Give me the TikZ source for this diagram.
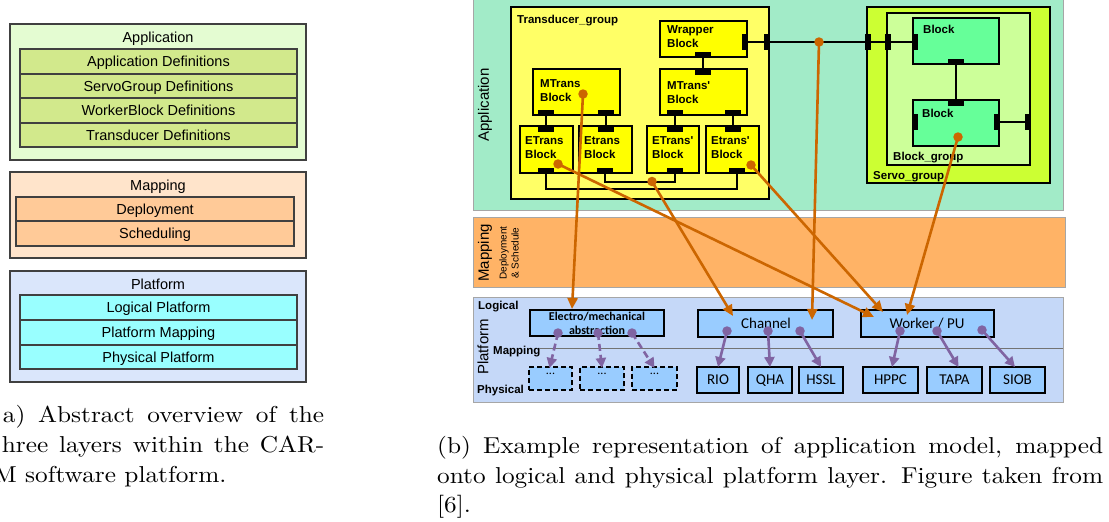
\documentclass[tikz,border=0pt]{standalone}
\usepackage{fontspec}
\usetikzlibrary{arrows.meta,calc}
\newfontfamily\arialf{Liberation Sans}
\newfontfamily\calf{Carlito}
\newfontfamily\capf[FakeStretch=1.1]{lmroman10-regular.otf}
\definecolor{lappbg}{HTML}{E4FCD2}
\definecolor{lapprow}{HTML}{D2E98C}
\definecolor{lmapbg}{HTML}{FFE4CB}
\definecolor{lmaprow}{HTML}{FFCA98}
\definecolor{lplatbg}{HTML}{DAE6FB}
\definecolor{lplatrow}{HTML}{99FFFF}
\definecolor{mint}{HTML}{A2EBC8}
\definecolor{tgyel}{HTML}{FFFF66}
\definecolor{blkyel}{HTML}{FFFF00}
\definecolor{sgcol}{HTML}{CCFF33}
\definecolor{bgcol}{HTML}{CCFF99}
\definecolor{blkgreen}{HTML}{66FF99}
\definecolor{maporange}{HTML}{FFB366}
\definecolor{platblue}{HTML}{C5D8F8}
\definecolor{logblue}{HTML}{99CCFF}
\definecolor{arrorange}{HTML}{CC6600}
\definecolor{arrpurple}{HTML}{8064A2}
\definecolor{edgegray}{HTML}{404040}
\newcommand\mkbox[6]{\node[#6,anchor=north west,minimum width=#4pt-#2pt,minimum height=#5pt-#3pt,inner sep=0pt,outer sep=0pt] (#1) at (#2,#3) {};}
\tikzset{
  louter/.style={draw=edgegray,line width=1.3pt},
  lrow/.style={draw=edgegray,line width=1.3pt},
  ltext/.style={font=\arialf\fontsize{14.5}{17}\selectfont,inner sep=0pt,anchor=base},
  secbg/.style={draw=gray!70,line width=0.8pt},
  blk/.style={draw=black,line width=1.8pt,fill=blkyel},
  btext/.style={font=\arialf\bfseries\fontsize{11.5}{14.5}\selectfont,inner sep=0pt,align=left},
  hport/.style={fill=black,inner sep=0pt,minimum width=16pt,minimum height=6pt},
  vport/.style={fill=black,inner sep=0pt,minimum width=6pt,minimum height=16pt},
  conn/.style={draw=black,line width=1.8pt},
  lbox/.style={draw=black,line width=1.8pt,fill=logblue},
  dbox/.style={draw=black,line width=1.8pt,fill=logblue,dash pattern=on 5pt off 3pt},
  ctext/.style={font=\calf\fontsize{15}{18}\selectfont,inner sep=0pt,anchor=base},
  odot/.style={circle,fill=arrorange,inner sep=0pt,minimum size=9.5pt},
  pdot/.style={circle,fill=arrpurple,inner sep=0pt,minimum size=9.5pt},
  oarr/.style={draw=arrorange,line width=2.6pt,-{Triangle[length=11pt,width=10pt]}},
  parr/.style={draw=arrpurple,line width=2.6pt,-{Triangle[length=10pt,width=10pt]}},
  pdash/.style={parr,dash pattern=on 7pt off 4pt},
  capst/.style={font=\capf\fontsize{23}{30}\selectfont,inner sep=0pt,anchor=base west},
}
\begin{document}
\begin{tikzpicture}[x=1pt,y=-1pt]
\useasboundingbox (0,0) rectangle (1109,522);
\fill[white] (0,0) rectangle (1109,522);
% ---------------- left panel ----------------
\mkbox{lapp}{10}{24}{306}{160}{louter,fill=lappbg}
\node[ltext] (tlapp) at (158,42.2) {Application};
\mkbox{ar1}{20}{49}{297}{74}{lrow,fill=lapprow}
\mkbox{ar2}{20}{74}{297}{98}{lrow,fill=lapprow}
\mkbox{ar3}{20}{98}{297}{123}{lrow,fill=lapprow}
\mkbox{ar4}{20}{123}{297}{147}{lrow,fill=lapprow}
\node[ltext] (tar1) at ($(ar1.center)+(0,5.2)$) {Application Definitions};
\node[ltext] (tar2) at ($(ar2.center)+(0,5.2)$) {ServoGroup Definitions};
\node[ltext] (tar3) at ($(ar3.center)+(0,5.2)$) {WorkerBlock Definitions};
\node[ltext] (tar4) at ($(ar4.center)+(0,5.2)$) {Transducer Definitions};
\mkbox{lmap}{10}{172}{306}{258}{louter,fill=lmapbg}
\node[ltext] (tlmap) at (158,190.2) {Mapping};
\mkbox{mr1}{16}{197}{294}{221}{lrow,fill=lmaprow}
\mkbox{mr2}{16}{221}{294}{246}{lrow,fill=lmaprow}
\node[ltext] (tmr1) at ($(mr1.center)+(0,5.2)$) {Deployment};
\node[ltext] (tmr2) at ($(mr2.center)+(0,5.2)$) {Scheduling};
\mkbox{lplat}{10}{271}{306}{382}{louter,fill=lplatbg}
\node[ltext] (tlplat) at (158,289.2) {Platform};
\mkbox{pr1}{20}{295}{297}{320}{lrow,fill=lplatrow}
\mkbox{pr2}{20}{320}{297}{345}{lrow,fill=lplatrow}
\mkbox{pr3}{20}{345}{297}{369}{lrow,fill=lplatrow}
\node[ltext] (tpr1) at ($(pr1.center)+(0,5.2)$) {Logical Platform};
\node[ltext] (tpr2) at ($(pr2.center)+(0,5.2)$) {Platform Mapping};
\node[ltext] (tpr3) at ($(pr3.center)+(0,5.2)$) {Physical Platform};
% captions
\node[capst] (ca1) at (2.7,422) {\makebox[321.3pt][s]{a) Abstract overview of the}};
\node[capst] (ca2) at (1.7,452) {\makebox[322.3pt][s]{hree layers within the CAR-}};
\node[capst] (ca3) at (-6.6,482) {M software platform.};
\node[capst] (cb1) at (437,453) {\makebox[666pt][s]{(b) Example representation of application model, mapped}};
\node[capst] (cb2) at (437,483) {\makebox[666pt][s]{onto logical and physical platform layer. Figure taken from}};
\node[capst] (cb3) at (437,512) {[6].};
% ---------------- right panel backgrounds ----------------
\mkbox{rapp}{473}{-2}{1063}{210}{secbg,fill=mint}
\mkbox{rmap}{473}{217}{1065}{287}{secbg,fill=maporange}
\mkbox{rplat}{473}{297}{1063}{402}{secbg,fill=platblue}
\node[rotate=90,font=\arialf\fontsize{15}{18}\selectfont,inner sep=0pt] (trapp) at (485,105) {Application};
\node[rotate=90,font=\arialf\fontsize{15}{18}\selectfont,inner sep=0pt] (trmap) at (485,253) {Mapping};
\node[rotate=90,font=\arialf\fontsize{10}{12}\selectfont,inner sep=0pt,align=center] (trdep) at (509,253) {Deployment\\\& Schedule};
\node[rotate=90,font=\arialf\fontsize{15}{18}\selectfont,inner sep=0pt] (trplat) at (483,347) {Platform};
\coordinate (mlineA) at (540,348.5);
\coordinate (mlineB) at (1063,348.5);
\draw[draw=gray!90!black,line width=0.8pt] (mlineA) -- (mlineB);
\node[btext,anchor=base west] (tlog) at (478,309.1) {Logical};
\node[btext,anchor=base west] (tmapp) at (493,354.1) {Mapping};
\node[btext,anchor=base west] (tphys) at (477,393.1) {Physical};
% ---------------- transducer group ----------------
\mkbox{tg}{511}{7}{769}{199}{draw=black,line width=2.2pt,fill=tgyel}
\node[btext,anchor=base west] (ttg) at (517,23.1) {Transducer\_group};
\mkbox{wrap}{660}{21}{747}{57}{blk}
\mkbox{mtp}{660}{69}{747}{115}{blk}
\mkbox{mt}{533}{69}{620}{115}{blk}
\mkbox{et1}{520}{126}{573}{173}{blk}
\mkbox{et2}{579}{126}{632}{173}{blk}
\mkbox{et3}{647}{126}{699}{173}{blk}
\mkbox{et4}{706}{126}{759}{173}{blk}
\node[btext,anchor=north west] (twrap) at (667,24.9) {Wrapper\\Block};
\node[btext,anchor=north west] (tmtp) at (667,80.9) {MTrans'\\Block};
\node[btext,anchor=north west] (tmt) at (540,78.9) {MTrans\\Block};
\node[btext,anchor=north west] (tet1) at (525,135.9) {ETrans\\Block};
\node[btext,anchor=north west] (tet2) at (584,135.9) {Etrans\\Block};
\node[btext,anchor=north west] (tet3) at (652,135.9) {ETrans'\\Block};
\node[btext,anchor=north west] (tet4) at (711,135.9) {Etrans'\\Block};
% ---------------- servo group ----------------
\mkbox{sg}{867}{7}{1050}{183}{draw=black,line width=2.2pt,fill=sgcol}
\mkbox{bgp}{887}{13}{1030}{165}{draw=black,line width=1.8pt,fill=bgcol}
\mkbox{blk1}{913}{18}{999}{64}{draw=black,line width=1.8pt,fill=blkgreen}
\mkbox{blk2}{913}{100}{999}{146}{draw=black,line width=1.8pt,fill=blkgreen}
\node[btext,anchor=base west] (tblk1) at (923,33.1) {Block};
\node[btext,anchor=base west] (tblk2) at (922,117.1) {Block};
\node[btext,anchor=base west] (tbgp) at (893,160.1) {Block\_group};
\node[btext,anchor=base west] (tsg) at (873,179.1) {Servo\_group};
% ports
\node[vport] (pwr) at (745,42) {};
\node[vport] (ptgr) at (767,42) {};
\node[hport] (pwb) at (703,55) {};
\node[hport] (pmtpt) at (703,71.5) {};
\node[hport] (pmtpb1) at (675,113) {};
\node[hport] (pmtpb2) at (733,113) {};
\node[hport] (pmtb1) at (546,113) {};
\node[hport] (pmtb2) at (606,113) {};
\node[hport] (pet1t) at (546,128.5) {};
\node[hport] (pet1b) at (546,171) {};
\node[hport] (pet2t) at (606,128.5) {};
\node[hport] (pet2b) at (605,171) {};
\node[hport] (pet3t) at (675,128.5) {};
\node[hport] (pet3b) at (675,171) {};
\node[hport] (pet4t) at (733,128.5) {};
\node[hport] (pet4b) at (737,171) {};
\node[vport] (psgl) at (868,42) {};
\node[vport] (pbgl) at (888,42) {};
\node[vport] (pb1l) at (915,42) {};
\node[hport] (pb1b) at (956,61.5) {};
\node[hport] (pb2t) at (956,102.5) {};
\node[vport] (pb2l) at (915,122) {};
\node[vport] (pb2r) at (997,122) {};
\node[vport] (pbgr) at (1028,122) {};
% black connectors
\draw[conn] (pwr) -- (ptgr) -- (psgl) -- (pbgl) -- (pb1l);
\draw[conn] (pwb) -- (pmtpt);
\draw[conn] (pmtpb1) -- (pet3t);
\draw[conn] (pmtpb2) -- (pet4t);
\draw[conn] (pmtb1) -- (pet1t);
\draw[conn] (pmtb2) -- (pet2t);
\draw[conn] (pet1b.south) -- ++(0,15) -| (pet4b.south);
\draw[conn] (pet2b.south) -- ++(0,7.5) -| (pet3b.south);
\draw[conn] (pb1b) -- (pb2t);
\draw[conn] (pb2r) -- (pbgr);
% ---------------- platform boxes ----------------
\mkbox{elec}{530}{310}{664}{336}{lbox}
\mkbox{chan}{698}{310}{833}{337}{lbox}
\mkbox{work}{861}{310}{994}{337}{lbox}
\node[font=\calf\bfseries\fontsize{12}{14}\selectfont,inner sep=0pt,align=center,anchor=north] (telec) at (597,312.3) {Electro/mechanical\\abstraction};
\node[ctext] (tchan) at (766,328.3) {Channel};
\node[ctext] (twork) at (927,328.3) {Worker / PU};
\mkbox{dd1}{529}{367}{572}{390}{dbox}
\mkbox{dd2}{580}{367}{624}{390}{dbox}
\mkbox{dd3}{632}{367}{677}{390}{dbox}
\node[font=\calf\fontsize{12}{14}\selectfont,inner sep=0pt,anchor=base] (tdd1) at ($(dd1.center)+(0,-4)$) {...};
\node[font=\calf\fontsize{12}{14}\selectfont,inner sep=0pt,anchor=base] (tdd2) at ($(dd2.center)+(0,-4)$) {...};
\node[font=\calf\fontsize{12}{14}\selectfont,inner sep=0pt,anchor=base] (tdd3) at ($(dd3.center)+(0,-4)$) {...};
\mkbox{rio}{697}{367}{739}{393}{lbox}
\mkbox{qha}{748}{367}{792}{393}{lbox}
\mkbox{hssl}{799}{367}{843}{393}{lbox}
\mkbox{hppc}{863}{367}{918}{393}{lbox}
\mkbox{tapa}{927}{367}{982}{393}{lbox}
\mkbox{siob}{990}{367}{1045}{393}{lbox}
\node[ctext] (trio) at ($(rio.center)+(0,4.8)$) {RIO};
\node[ctext] (tqha) at ($(qha.center)+(0,4.8)$) {QHA};
\node[ctext] (thssl) at ($(hssl.center)+(0,4.8)$) {HSSL};
\node[ctext] (thppc) at ($(hppc.center)+(0,4.8)$) {HPPC};
\node[ctext] (ttapa) at ($(tapa.center)+(0,4.8)$) {TAPA};
\node[ctext] (tsiob) at ($(siob.center)+(0,4.8)$) {SIOB};
% ---------------- purple connectors ----------------
\node[pdot] (pd1) at (558,333) {};
\node[pdot] (pd2) at (598,333) {};
\node[pdot] (pd3) at (632,333) {};
\node[pdot] (pc1) at (727,331) {};
\node[pdot] (pc2) at (768,331) {};
\node[pdot] (pc3) at (800,331) {};
\node[pdot] (pw1) at (900,331) {};
\node[pdot] (pw2) at (937,331) {};
\node[pdot] (pw3) at (982,330) {};
\draw[pdash] (pd1.center) -- ($(dd1.north)+(-1,1)$);
\draw[pdash] (pd2.center) -- ($(dd2.north)+(0,1)$);
\draw[pdash] (pd3.center) -- ($(dd3.north)+(0,1)$);
\draw[parr] (pc1.center) -- (rio.north);
\draw[parr] (pc2.center) -- (qha.north);
\draw[parr] (pc3.center) -- (hssl.north);
\draw[parr] (pw1.center) -- ($(hppc.north)+(1.5,0)$);
\draw[parr] (pw2.center) -- ($(tapa.north)+(4,0)$);
\draw[parr] (pw3.center) -- ($(siob.north)+(-2.5,0)$);
% ---------------- orange connectors ----------------
\node[odot] (dmt) at (583,94) {};
\node[odot] (det1) at (558,164) {};
\node[odot] (dj) at (652,181.5) {};
\node[odot] (det4) at (751,165) {};
\node[odot] (dw) at (819,42) {};
\node[odot] (dblk) at (958,137) {};
\draw[oarr] (dmt.center) -- ($(elec.north west)+(42,-1)$);
\draw[oarr] (det1.center) -- ($(work.north west)+(13,7)$);
\draw[oarr] (dj.center) -- ($(chan.north west)+(35,6)$);
\draw[oarr] (dw.center) -- ($(chan.north west)+(114,10)$);
\draw[oarr] (det4.center) -- ($(work.north west)+(22,2)$);
\draw[oarr] (dblk.center) -- ($(work.north west)+(46,5)$);
\end{tikzpicture}
\end{document}
